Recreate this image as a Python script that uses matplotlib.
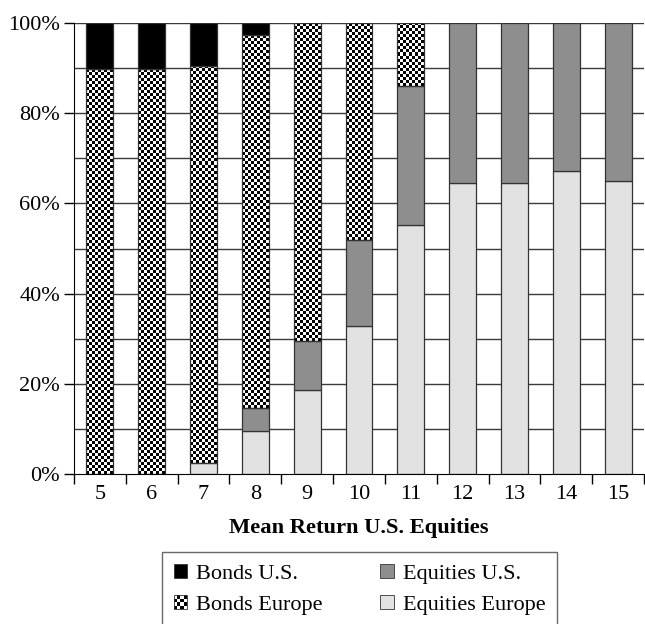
import numpy as np
import matplotlib
matplotlib.use("Agg")
import matplotlib.pyplot as plt
from matplotlib.patches import Patch, Rectangle
from matplotlib.legend_handler import HandlerBase

plt.rcParams['font.family'] = ['Liberation Serif', 'DejaVu Serif']

# mean return of U.S. equities (%) and portfolio weights (%)
categories = [5, 6, 7, 8, 9, 10, 11, 12, 13, 14, 15]
equities_europe = [0, 0, 2.4, 9.5, 18.6, 32.8, 55.2, 64.5, 64.5, 67.2, 65.0]
equities_us = [0, 0, 0, 5.1, 10.9, 19.1, 30.8, 35.5, 35.5, 32.8, 35.0]
bonds_europe = [89.8, 89.7, 88.1, 82.7, 70.5, 48.1, 14.0, 0, 0, 0, 0]
bonds_us = [10.2, 10.3, 9.5, 2.7, 0, 0, 0, 0, 0, 0, 0]

series_names = ["Bonds U.S.", "Bonds Europe", "Equities U.S.", "Equities Europe"]

EDGE = "#333333"
C_BUS = "black"
C_EUS = "#8e8e8e"
C_EE = "#e2e2e2"
BAR_W = 0.52


def checker(nx, ny):
    yy, xx = np.mgrid[0:ny, 0:nx]
    return ((xx + yy) % 2).astype(float)


class CheckerHandler(HandlerBase):
    # small checkerboard swatch for the legend
    def create_artists(self, legend, orig_handle, xdescent, ydescent,
                       width, height, fontsize, trans):
        n = 4
        cw, ch = width / n, height / n
        arts = []
        for i in range(n):
            for j in range(n):
                c = "black" if (i + j) % 2 == 0 else "white"
                arts.append(Rectangle((-xdescent + i * cw, -ydescent + j * ch), cw, ch,
                                      facecolor=c, edgecolor="none", transform=trans))
        arts.append(Rectangle((-xdescent, -ydescent), width, height, facecolor="none",
                              edgecolor=EDGE, lw=0.6, transform=trans))
        return arts


fig = plt.figure(figsize=(6.45, 6.24), dpi=100)
ax = fig.add_axes([0.1147, 0.2404, 0.8837, 0.7227])

x = np.arange(len(categories))
ee = np.array(equities_europe)
eus = np.array(equities_us)
be = np.array(bonds_europe)
bus = np.array(bonds_us)

# horizontal grid every 10 %
for g in range(10, 101, 10):
    ax.axhline(g, color="#3a3a3a", lw=1.0, zorder=0.5)

def stack(vals, bottom, color):
    m = vals > 0
    ax.bar(x[m], vals[m], BAR_W, bottom=bottom[m], color=color,
           edgecolor=EDGE, linewidth=0.9, zorder=2)

stack(ee, np.zeros_like(ee), C_EE)
stack(eus, ee, C_EUS)

# bonds Europe: checkerboard fill drawn as an image inside each bar
base = ee + eus
ax_h_px = 451.0
bar_w_px = 27.0
cell_px = 3.0
for xi, b, h in zip(x, base, be):
    if h <= 0:
        continue
    nx = int(round(bar_w_px / cell_px))
    ny = max(1, int(round(h / 100 * ax_h_px / cell_px)))
    ax.imshow(checker(nx, ny), cmap="gray", interpolation="nearest", aspect="auto",
              extent=(xi - BAR_W / 2, xi + BAR_W / 2, b, b + h), origin="lower",
              zorder=1.8)
m = be > 0
ax.bar(x[m], be[m], BAR_W, bottom=base[m], facecolor="none",
       edgecolor=EDGE, linewidth=0.9, zorder=2)

stack(bus, base + be, C_BUS)

ax.set_xlim(-0.5, len(categories) - 0.5)
ax.set_ylim(0, 100)

ax.spines["top"].set_visible(False)
ax.spines["right"].set_visible(False)
ax.spines["left"].set_color("black")
ax.spines["bottom"].set_color("black")

ax.set_yticks(range(0, 101, 20))
ax.set_yticklabels([f"{v}%" for v in range(0, 101, 20)], fontsize=16)
ax.tick_params(axis="y", length=7, width=1, direction="out", pad=3)

ax.set_xticks(x)
ax.set_xticklabels([str(c) for c in categories], fontsize=16)
ax.set_xticks(np.arange(-0.5, len(categories)), minor=True)
ax.tick_params(axis="x", which="major", length=0, pad=8)
ax.tick_params(axis="x", which="minor", length=7, width=1, direction="out")

ax.set_xlabel("Mean Return U.S. Equities", fontsize=16.2, fontweight="bold", labelpad=10)

h_bus = Patch(facecolor=C_BUS, edgecolor=EDGE, lw=0.6)
h_be = Patch(facecolor="white", edgecolor=EDGE)
h_eus = Patch(facecolor=C_EUS, edgecolor=EDGE, lw=0.6)
h_ee = Patch(facecolor=C_EE, edgecolor=EDGE, lw=0.6)

leg = fig.legend([h_bus, h_be, h_eus, h_ee],
                 [series_names[0], series_names[1], series_names[2], series_names[3]],
                 handler_map={h_be: CheckerHandler()},
                 loc="upper center", bbox_to_anchor=(359.5 / 645, 1 - 552 / 624),
                 ncol=2, fontsize=16, frameon=True, fancybox=False,
                 edgecolor="#444444", handlelength=0.6, handleheight=0.6,
                 handletextpad=0.4, columnspacing=2.6, labelspacing=0.5,
                 borderpad=0.55, borderaxespad=0)
leg.get_frame().set_linewidth(1.0)

fig.savefig("out.png", dpi=100)
